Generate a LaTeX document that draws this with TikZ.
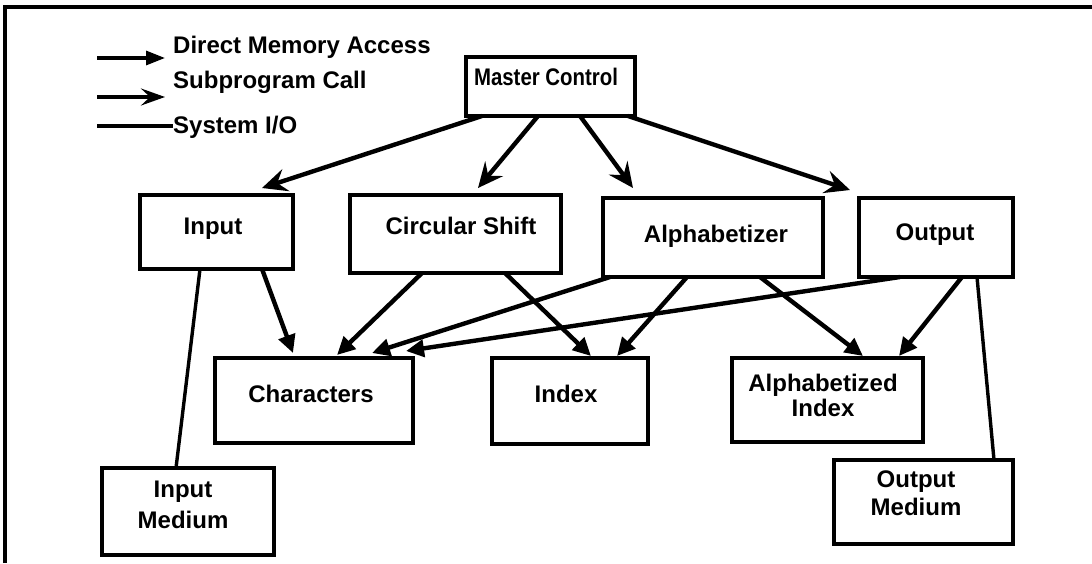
\documentclass[tikz,border=0pt]{standalone}
\usepackage{fontspec}
\setmainfont{Liberation Sans}
\usetikzlibrary{arrows.meta,calc}
\begin{document}
\begin{tikzpicture}[x=1pt,y=-1pt,
  box/.style={draw, line width=3.2pt, anchor=north west, inner sep=0pt, outer sep=0pt},
  lbl/.style={anchor=base, font=\fontsize{24}{24}\selectfont\bfseries, inner sep=0pt},
  dma/.style={line width=4.4pt, -{Triangle[length=18pt,width=17pt]}},
  call/.style={line width=4.4pt, -{Stealth[length=25pt,width=23pt,inset=9pt]}},
  sysio/.style={line width=3.4pt}]
\useasboundingbox (0,0) rectangle (1092,563);
% frame
\coordinate (fbl) at (5,563);
\coordinate (ftl) at (5,7);
\coordinate (ftr) at (1092,7);
\draw[line width=3.2pt] (fbl) -- (ftl) -- (ftr);

% legend
\coordinate (l1a) at (97,58);  \coordinate (l1b) at (165,58);
\coordinate (l2a) at (97,97);  \coordinate (l2b) at (165,97);
\coordinate (l3a) at (97,126); \coordinate (l3b) at (173,126);
\draw[line width=3.2pt, -{Triangle[length=19pt,width=14pt]}] (l1a) -- (l1b);
\draw[line width=3.2pt, -{Stealth[length=24pt,width=17pt,inset=9pt]}] (l2a) -- (l2b);
\draw[sysio] (l3a) -- (l3b);
\node[lbl, anchor=base west] (leg1) at (173,53) {Direct Memory Access};
\node[lbl, anchor=base west] (leg2) at (173,88) {Subprogram Call};
\node[lbl, anchor=base west] (leg3) at (173,133) {System I/O};

% boxes
\node[box, minimum width=169pt, minimum height=59pt] (master) at (466,57) {};
\node[box, minimum width=153pt, minimum height=74pt] (input) at (140,195) {};
\node[box, minimum width=211pt, minimum height=78pt] (circ) at (350,195) {};
\node[box, minimum width=220pt, minimum height=79pt] (alpha) at (603,198) {};
\node[box, minimum width=154pt, minimum height=79pt] (output) at (859,198) {};
\node[box, minimum width=198pt, minimum height=85pt] (chars) at (215,358) {};
\node[box, minimum width=156pt, minimum height=86pt] (index) at (492,358) {};
\node[box, minimum width=191pt, minimum height=84pt] (alphidx) at (732,358) {};
\node[box, minimum width=172pt, minimum height=87pt] (inmed) at (102,468) {};
\node[box, minimum width=179pt, minimum height=84pt] (outmed) at (834,460) {};

% labels
\node[lbl] (masterT) at (546,85) {\scalebox{0.85}[1]{Master Control}};
\node[lbl] (inputT) at (213,234) {Input};
\node[lbl] (circT) at (461,234) {Circular Shift};
\node[lbl] (alphaT) at (716,242) {Alphabetizer};
\node[lbl] (outputT) at (935,240) {Output};
\node[lbl] (charsT) at (311,402) {Characters};
\node[lbl] (indexT) at (566,402) {Index};
\node[lbl] (alphidxT1) at (823,391) {Alphabetized};
\node[lbl] (alphidxT2) at (823,416) {Index};
\node[lbl] (inmedT1) at (183,497) {Input};
\node[lbl] (inmedT2) at (183,528) {Medium};
\node[lbl] (outmedT1) at (916,487) {Output};
\node[lbl] (outmedT2) at (916,515) {Medium};

% subprogram calls
\draw[call] ($(master.south west)+(16,0)$) -- ($(input.north west)+(122,-7)$);
\draw[call] ($(master.south west)+(72,0)$) -- ($(circ.north west)+(128,-7)$);
\draw[call] ($(master.south west)+(114,0)$) -- ($(alpha.north west)+(30,-10)$);
\draw[call] ($(master.south west)+(162,0)$) -- ($(output.north west)+(-9,-8)$);

% direct memory access
\draw[dma] ($(input.south west)+(122,0)$) -- ($(chars.north west)+(78,-5)$);
\draw[dma] ($(circ.south west)+(72,0)$) -- ($(chars.north west)+(122,-3)$);
\draw[dma] ($(alpha.south west)+(7,0)$) -- ($(chars.north west)+(157,-5)$);
\draw[dma] ($(output.south west)+(41,0)$) -- ($(chars.north west)+(191,-7)$);
\draw[dma] ($(circ.south west)+(155,0)$) -- ($(index.north west)+(99,-2)$);
\draw[dma] ($(alpha.south west)+(84,0)$) -- ($(index.north west)+(125,-2)$);
\draw[dma] ($(alpha.south west)+(157,0)$) -- ($(alphidx.north west)+(131,-2)$);
\draw[dma] ($(output.south west)+(103,0)$) -- ($(alphidx.north west)+(167,-2)$);

% system I/O
\draw[sysio] ($(input.south west)+(60,0)$) -- ($(inmed.north west)+(74,0)$);
\draw[sysio] ($(output.south west)+(118,0)$) -- ($(outmed.north west)+(160,0)$);
\end{tikzpicture}
\end{document}
